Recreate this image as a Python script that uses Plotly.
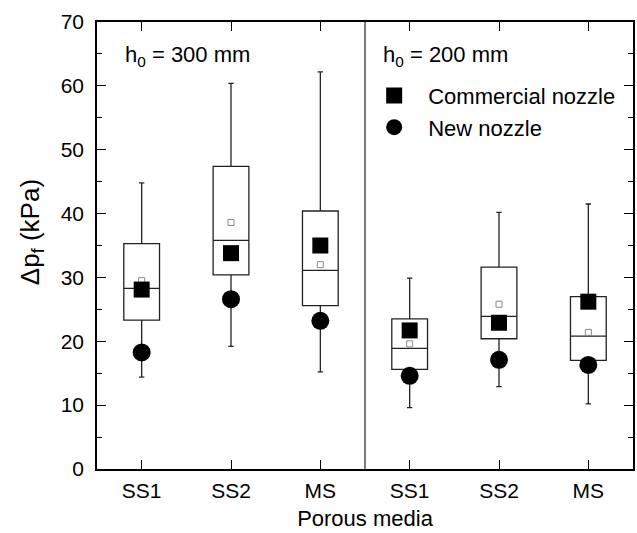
import plotly.graph_objects as go

# ---- data ----
groups = ["h0 = 300 mm"] * 3 + ["h0 = 200 mm"] * 3
media = ["SS1", "SS2", "MS", "SS1", "SS2", "MS"]
whisk_hi = [44.8, 60.4, 62.2, 29.9, 40.2, 41.5]
q3 = [35.3, 47.4, 40.4, 23.5, 31.6, 27.0]
median = [28.3, 35.8, 31.1, 18.9, 23.9, 20.8]
q1 = [23.3, 30.4, 25.6, 15.6, 20.4, 17.0]
whisk_lo = [14.4, 19.2, 15.2, 9.6, 12.9, 10.2]
mean = [29.5, 38.6, 32.0, 19.6, 25.8, 21.4]
commercial = [28.1, 33.8, 35.0, 21.7, 22.9, 26.2]
new_nozzle = [18.25, 26.6, 23.2, 14.6, 17.1, 16.3]

xpos = list(range(1, len(media) + 1))
FONT = "Liberation Sans, Arial, sans-serif"

fig = go.Figure()

fig.add_trace(go.Box(
    x=xpos, q1=q1, median=median, q3=q3,
    lowerfence=whisk_lo, upperfence=whisk_hi,
    width=0.4, whiskerwidth=0.15, boxpoints=False,
    fillcolor="rgba(0,0,0,0)", line=dict(color="#222222", width=1.3),
    showlegend=False, hoverinfo="skip",
))
fig.add_trace(go.Scatter(
    x=xpos, y=mean, mode="markers", showlegend=False,
    marker=dict(symbol="square-open", size=6, color="#8a8a8a", line=dict(width=1)),
))
fig.add_trace(go.Scatter(
    x=xpos, y=commercial, mode="markers", name="Commercial nozzle",
    marker=dict(symbol="square", size=16, color="black"),
))
fig.add_trace(go.Scatter(
    x=xpos, y=new_nozzle, mode="markers", name="New nozzle",
    marker=dict(symbol="circle", size=18, color="black"),
))

# divider between the two h0 groups
fig.add_vline(x=3.5, line=dict(color="#222222", width=1.2))

fig.add_annotation(x=0.048, y=0.925, xref="paper", yref="paper",
                   text="h<sub>0</sub> = 300 mm", showarrow=False,
                   xanchor="left", yanchor="middle", font=dict(size=22, family=FONT, color="black"))
fig.add_annotation(x=0.530, y=0.925, xref="paper", yref="paper",
                   text="h<sub>0</sub> = 200 mm", showarrow=False,
                   xanchor="left", yanchor="middle", font=dict(size=22, family=FONT, color="black"))
# y-axis title
fig.add_annotation(x=-0.123, y=0.53, xref="paper", yref="paper",
                   text="Δp<sub>f</sub> (kPa)", showarrow=False, textangle=-90,
                   xanchor="center", yanchor="middle", font=dict(size=26, family=FONT, color="black"))

fig.update_layout(
    width=637, height=533,
    margin=dict(l=97, r=2, t=22, b=64),
    paper_bgcolor="white", plot_bgcolor="white",
    font=dict(family=FONT, size=21, color="black"),
    legend=dict(x=0.491, y=0.882, xanchor="left", yanchor="top",
                bgcolor="rgba(0,0,0,0)", itemwidth=58,
                font=dict(size=22, family=FONT), tracegroupgap=0),
    xaxis=dict(
        range=[0.5, 6.5], tickvals=xpos, ticktext=media,
        ticks="inside", ticklen=9, tickwidth=1.3, tickcolor="black",
        showline=True, linecolor="black", linewidth=1.5, mirror="ticks",
        showgrid=False, zeroline=False, ticklabelstandoff=2,
        tickfont=dict(size=21),
        title=dict(text="Porous media", font=dict(size=22), standoff=10),
    ),
    yaxis=dict(
        range=[0, 70], tickvals=[0, 10, 20, 30, 40, 50, 60, 70],
        ticks="inside", ticklen=9, tickwidth=1.3, tickcolor="black",
        minor=dict(ticks="inside", ticklen=5, dtick=5, tickcolor="black", tickwidth=1.3, showgrid=False),
        showline=True, linecolor="black", linewidth=1.5, mirror="ticks",
        showgrid=False, zeroline=False, ticklabelstandoff=7,
        tickfont=dict(size=21),
    ),
)

fig.write_html("out.html")
